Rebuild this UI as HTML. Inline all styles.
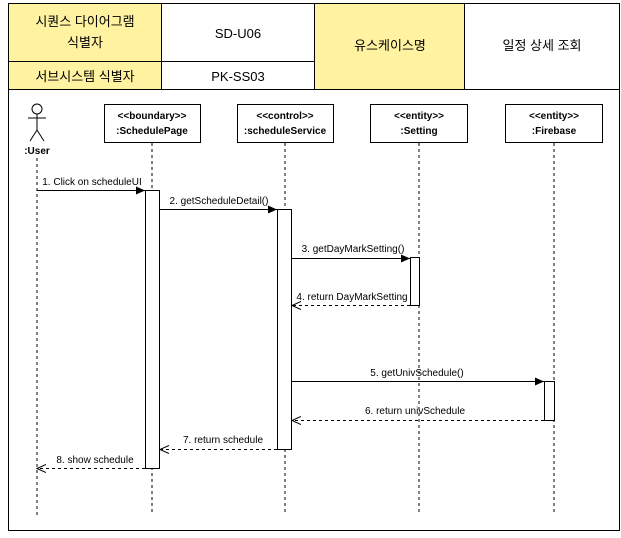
<!DOCTYPE html>
<html><head><meta charset="utf-8"><style>
body{margin:0;background:#fff;}
svg text{font-family:"Liberation Sans","Noto Sans CJK KR",sans-serif;}
</style></head><body>
<svg width="621" height="533" xmlns="http://www.w3.org/2000/svg">
<defs>
<marker id="a" markerWidth="10" markerHeight="8" refX="9" refY="4" orient="auto" markerUnits="userSpaceOnUse"><path d="M0,0 L9,4 L0,8 Z" fill="#000"/></marker>
<marker id="o" markerWidth="10" markerHeight="10" refX="9" refY="5" orient="auto" markerUnits="userSpaceOnUse"><path d="M0,1 L9,5 L0,9" fill="none" stroke="#000"/></marker>
</defs>
<rect x="8.5" y="3.5" width="611" height="527" fill="#fff" stroke="#000"/>
<rect x="8.5" y="3.5" width="153" height="58" fill="#fff2a0" stroke="#000"/>
<rect x="8.5" y="61.5" width="153" height="28" fill="#fff2a0" stroke="#000"/>
<rect x="161.5" y="3.5" width="153" height="58" fill="#fff" stroke="#000"/>
<rect x="161.5" y="61.5" width="153" height="28" fill="#fff" stroke="#000"/>
<rect x="314.5" y="3.5" width="150" height="86" fill="#fff2a0" stroke="#000"/>
<rect x="464.5" y="3.5" width="155" height="86" fill="#fff" stroke="#000"/>
<g font-size="13" text-anchor="middle">
<text x="85" y="26">시퀀스 다이어그램</text>
<text x="85" y="47">식별자</text>
<text x="85" y="81">서브시스템 식별자</text>
<text x="238" y="38">SD-U06</text>
<text x="238" y="81">PK-SS03</text>
<text x="390" y="50">유스케이스명</text>
<text x="542" y="50">일정 상세 조회</text>
</g>
<!-- actor -->
<g stroke="#000" fill="none">
<circle cx="37" cy="109" r="5"/>
<line x1="37" y1="114" x2="37" y2="130"/><line x1="28" y1="118" x2="46" y2="118"/>
<line x1="37" y1="130" x2="30" y2="141"/><line x1="37" y1="130" x2="44" y2="141"/>
</g>
<text x="37" y="154" font-size="10" font-weight="bold" text-anchor="middle">:User</text>
<g stroke="#000" stroke-dasharray="3,3">
<line x1="37" y1="158" x2="37" y2="515"/>
<line x1="152" y1="143" x2="152" y2="515"/>
<line x1="285" y1="143" x2="285" y2="515"/>
<line x1="419" y1="143" x2="419" y2="515"/>
<line x1="554" y1="143" x2="554" y2="515"/>
</g>
<g stroke="#000" fill="#fff">
<rect x="104.5" y="104.5" width="96" height="38"/>
<rect x="237.5" y="104.5" width="96" height="38"/>
<rect x="370.5" y="104.5" width="97" height="38"/>
<rect x="505.5" y="104.5" width="97" height="38"/>
</g>
<g font-size="10" font-weight="bold" text-anchor="middle">
<text x="152" y="119">&lt;&lt;boundary&gt;&gt;</text><text x="152" y="134">:SchedulePage</text>
<text x="285" y="119">&lt;&lt;control&gt;&gt;</text><text x="285" y="134">:scheduleService</text>
<text x="419" y="119">&lt;&lt;entity&gt;&gt;</text><text x="419" y="134">:Setting</text>
<text x="554" y="119">&lt;&lt;entity&gt;&gt;</text><text x="554" y="134">:Firebase</text>
</g>
<g stroke="#000" fill="#fff">
<rect x="145.5" y="190.5" width="14" height="278"/>
<rect x="277.5" y="209.5" width="14" height="240"/>
<rect x="410.5" y="257.5" width="9" height="48"/>
<rect x="544.5" y="381.5" width="10" height="39"/>
</g>
<g stroke="#000" fill="none">
<line x1="37" y1="190.5" x2="145" y2="190.5" marker-end="url(#a)"/>
<line x1="160" y1="209.5" x2="277" y2="209.5" marker-end="url(#a)"/>
<line x1="292" y1="258.5" x2="410" y2="258.5" marker-end="url(#a)"/>
<line x1="410" y1="305.5" x2="292" y2="305.5" stroke-dasharray="3,3" marker-end="url(#o)"/>
<line x1="292" y1="381.5" x2="544" y2="381.5" marker-end="url(#a)"/>
<line x1="544" y1="420.5" x2="292" y2="420.5" stroke-dasharray="3,3" marker-end="url(#o)"/>
<line x1="277" y1="449.5" x2="160" y2="449.5" stroke-dasharray="3,3" marker-end="url(#o)"/>
<line x1="145" y1="468.5" x2="37" y2="468.5" stroke-dasharray="3,3" marker-end="url(#o)"/>
</g>
<g font-size="10" text-anchor="middle">
<text x="92" y="185" fill="#000">1. Click on scheduleUI</text>
<text x="219" y="204">2. getScheduleDetail()</text>
<text x="353" y="252">3. getDayMarkSetting()</text>
<text x="352" y="300">4. return DayMarkSetting</text>
<text x="417" y="376">5. getUnivSchedule()</text>
<text x="415" y="414">6. return univSchedule</text>
<text x="223" y="443">7. return schedule</text>
<text x="95" y="463">8. show schedule</text>
</g>
</svg>
</body></html>
